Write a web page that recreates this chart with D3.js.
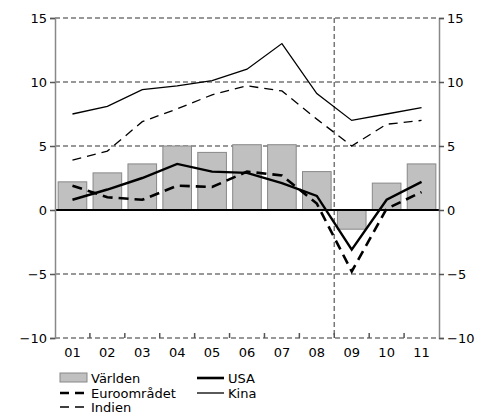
<!DOCTYPE html>
<html>
<head>
<meta charset="utf-8">
<script src="https://cdn.jsdelivr.net/npm/d3@7"></script>
<style>
  body { margin: 0; background: #fff; }
  svg text { font-family: "DejaVu Sans", Verdana, sans-serif; font-size: 13px; fill: #000; }
</style>
</head>
<body>
<div id="chart"></div>
<script>
const years = ['01', '02', '03', '04', '05', '06', '07', '08', '09', '10', '11'];
const varlden = [2.2, 2.9, 3.6, 5.0, 4.5, 5.1, 5.1, 3.0, -1.5, 2.1, 3.6];
const usa = [0.8, 1.6, 2.5, 3.6, 3.0, 2.9, 2.1, 1.1, -3.1, 0.8, 2.2];
const euro = [1.9, 1.0, 0.8, 1.9, 1.8, 3.0, 2.7, 0.5, -4.8, 0.1, 1.4];
const kina = [7.5, 8.1, 9.4, 9.7, 10.1, 11.0, 13.0, 9.1, 7.0, 7.5, 8.0];
const indien = [3.9, 4.6, 6.9, 7.9, 9.0, 9.7, 9.3, 7.1, 5.0, 6.7, 7.0];
const yTicks = [-10, -5, 0, 5, 10, 15];

const width = 486;
const height = 420;
const plot = { left: 55, right: 439, top: 18, bottom: 338 };

const svg = d3.select('#chart')
    .append('svg')
    .attr('width', width)
    .attr('height', height);

const x = d3.scaleBand().domain(years).range([plot.left, plot.right]).paddingInner(0.18).paddingOuter(0.09);
const xb = d3.scaleBand().domain(years).range([plot.left, plot.right]);
const y = d3.scaleLinear().domain([-10, 15]).range([plot.bottom, plot.top]);
const cx = d => xb(d) + xb.bandwidth() / 2;

// gridlines
svg.append('g')
    .selectAll('line')
    .data(yTicks.filter(t => t !== 0))
    .enter()
    .append('line')
    .attr('x1', plot.left)
    .attr('x2', plot.right)
    .attr('y1', d => y(d))
    .attr('y2', d => y(d))
    .attr('stroke', '#777')
    .attr('stroke-width', 1.5)
    .attr('stroke-dasharray', '5,3');

// vertical dashed line between 08 and 09
svg.append('line')
    .attr('x1', xb('09'))
    .attr('x2', xb('09'))
    .attr('y1', plot.top)
    .attr('y2', plot.bottom)
    .attr('stroke', '#777')
    .attr('stroke-width', 1.5)
    .attr('stroke-dasharray', '5,3');

// bars
svg.append('g')
    .selectAll('rect')
    .data(varlden)
    .enter()
    .append('rect')
    .attr('x', (d, i) => x(years[i]))
    .attr('y', d => y(Math.max(0, d)))
    .attr('width', x.bandwidth())
    .attr('height', d => Math.abs(y(d) - y(0)))
    .attr('fill', '#c0c0c0')
    .attr('stroke', '#888')
    .attr('stroke-width', 1);

// zero line
svg.append('line')
    .attr('x1', plot.left)
    .attr('x2', plot.right)
    .attr('y1', y(0))
    .attr('y2', y(0))
    .attr('stroke', '#000')
    .attr('stroke-width', 2);

// axes
const yLeft = d3.axisLeft(y).tickValues(yTicks).tickSize(5).tickPadding(3);
const yRight = d3.axisRight(y).tickValues(yTicks).tickSize(5).tickPadding(3);
const xAxis = d3.axisBottom(xb).tickSize(0).tickPadding(10);

svg.append('g').attr('transform', `translate(${plot.left},0)`).call(yLeft);
svg.append('g').attr('transform', `translate(${plot.right},0)`).call(yRight);
const gx = svg.append('g').attr('transform', `translate(0,${plot.bottom})`).call(xAxis);
gx.select('.domain').remove();

svg.selectAll('.domain').attr('stroke', '#888').attr('stroke-width', 1.5);
svg.selectAll('.tick line').attr('stroke', '#555').attr('stroke-width', 1.5);
svg.selectAll('.tick text').style('font-size', '13px');

// category boundary ticks on bottom axis
svg.append('g')
    .selectAll('line')
    .data(years.slice(1))
    .enter()
    .append('line')
    .attr('x1', d => xb(d))
    .attr('x2', d => xb(d))
    .attr('y1', plot.bottom)
    .attr('y2', plot.bottom - 5)
    .attr('stroke', '#555')
    .attr('stroke-width', 1.5);

// lines
const line = d3.line().x((d, i) => cx(years[i])).y(d => y(d));
const series = [
    { values: kina, width: 1.3, dash: null },
    { values: indien, width: 1.3, dash: '9,6' },
    { values: euro, width: 2.6, dash: '10,6' },
    { values: usa, width: 2.4, dash: null }
];
series.forEach(s => {
    svg.append('path')
        .datum(s.values)
        .attr('d', line)
        .attr('fill', 'none')
        .attr('stroke', '#000')
        .attr('stroke-width', s.width)
        .attr('stroke-dasharray', s.dash);
});

// legend
const legend = svg.append('g');
legend.append('rect')
    .attr('x', 60).attr('y', 373).attr('width', 27).attr('height', 9)
    .attr('fill', '#c0c0c0').attr('stroke', '#888');
legend.append('text').attr('x', 91).attr('y', 383).text('Världen');

const legendLines = [
    { label: 'USA', x: 197, y: 378, width: 2.6, dash: null },
    { label: 'Euroområdet', x: 60, y: 393, width: 2.6, dash: '9,6' },
    { label: 'Kina', x: 197, y: 393, width: 1.3, dash: null },
    { label: 'Indien', x: 60, y: 407, width: 1.3, dash: '9,6' }
];
legendLines.forEach(l => {
    legend.append('line')
        .attr('x1', l.x).attr('x2', l.x + 27)
        .attr('y1', l.y).attr('y2', l.y)
        .attr('stroke', '#000')
        .attr('stroke-width', l.width)
        .attr('stroke-dasharray', l.dash);
    legend.append('text').attr('x', l.x + 31).attr('y', l.y + 5).text(l.label);
});
</script>
</body>
</html>
